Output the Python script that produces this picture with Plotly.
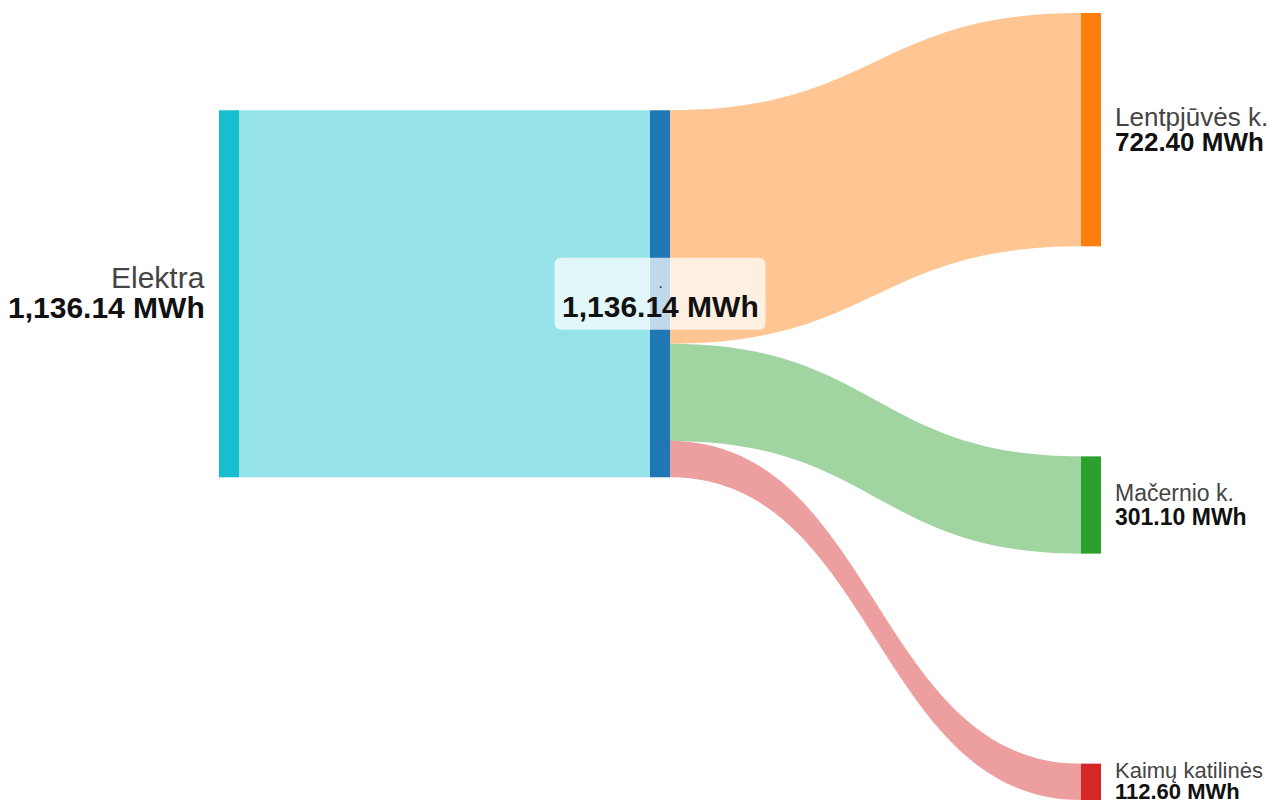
import plotly.graph_objects as go

# Energy flow: electricity supply split between three consumers (MWh)
node_names = ["Elektra", "", "Lentpjūvės k.", "Mačernio k.", "Kaimų katilinės"]
node_colors = ["#17becf", "#1f77b4", "#ff7f0e", "#2ca02c", "#d62728"]
link_sources = [0, 1, 1, 1]
link_targets = [1, 2, 3, 4]
link_values = [1136.14, 722.40, 301.10, 112.60]
unit = "MWh"


def hex_rgba(h, a):
    h = h.lstrip("#")
    r, g, b = int(h[0:2], 16), int(h[2:4], 16), int(h[4:6], 16)
    return f"rgba({r},{g},{b},{a})"


link_colors = [hex_rgba(node_colors[t], 0.45) for t in link_targets]
# the first link takes the colour of its source node
link_colors[0] = hex_rgba(node_colors[link_sources[0]], 0.45)

# node totals = max(inflow, outflow)
n = len(node_names)
inflow = [0.0] * n
outflow = [0.0] * n
for s, t, v in zip(link_sources, link_targets, link_values):
    outflow[s] += v
    inflow[t] += v
node_values = [max(i, o) for i, o in zip(inflow, outflow)]

# ---- figure geometry (pixels) ----
FIG_W, FIG_H = 1273, 800
DOM_X0, DOM_X1 = 219, 1101
DOM_TOP = 13
THICK = 20
PAD = 210

dom_w = DOM_X1 - DOM_X0
dom_h = FIG_H - DOM_TOP

fig = go.Figure(go.Sankey(
    domain=dict(x=[DOM_X0 / FIG_W, DOM_X1 / FIG_W], y=[0, 1 - DOM_TOP / FIG_H]),
    arrangement="snap",
    node=dict(
        label=["" for _ in node_names],
        color=node_colors,
        pad=PAD,
        thickness=THICK,
        line=dict(width=0),
        hovertemplate="%{value:,.2f} " + unit + "<extra></extra>",
    ),
    link=dict(
        source=link_sources,
        target=link_targets,
        value=link_values,
        color=link_colors,
        hovertemplate="%{value:,.2f} " + unit + "<extra></extra>",
    ),
))

# ---- replicate node placement to anchor the labels ----
right_nodes = [t for t in link_targets if t != 1]
ky = (dom_h - (len(right_nodes) - 1) * PAD) / sum(node_values[i] for i in right_nodes)
tops = {}
y = DOM_TOP
for i in right_nodes:
    tops[i] = y
    y += node_values[i] * ky + PAD
# middle node sits at the value-weighted alignment of its outgoing links
acc, w, off = 0.0, 0.0, 0.0
for s, t, v in zip(link_sources, link_targets, link_values):
    if s == 1:
        acc += (tops[t] - off) * v
        w += v
        off += v * ky
tops[1] = acc / w
tops[0] = tops[1]

col_of = {0: 0, 1: 1, 2: 2, 3: 2, 4: 2}
step = (dom_w - THICK) / 2


def center(i):
    x0 = DOM_X0 + col_of[i] * step
    yc = tops[i] + node_values[i] * ky / 2
    return x0, yc


def px(x):
    return x / FIG_W


def py(y):
    return 1 - y / FIG_H


FONT = "Arial, Liberation Sans, sans-serif"
NAME_COLOR = "#444444"
VAL_COLOR = "#111111"

# font size and line offsets for each labelled node
label_style = {
    0: dict(size=30, up=16, down=14),
    2: dict(size=26, up=13, down=12),
    3: dict(size=23, up=12, down=12),
    4: dict(size=22, up=11, down=10),
}

annotations = []
for i, st in label_style.items():
    x0, yc = center(i)
    if col_of[i] == 0:
        ax, anchor = x0 - 12, "right"
    else:
        ax, anchor = x0 + THICK + 12, "left"
    annotations.append(dict(
        x=px(ax), y=py(yc - st["up"]), xref="paper", yref="paper",
        xanchor=anchor, yanchor="middle", showarrow=False,
        text=node_names[i], font=dict(family=FONT, size=st["size"], color=NAME_COLOR),
    ))
    annotations.append(dict(
        x=px(ax), y=py(yc + st["down"]), xref="paper", yref="paper",
        xanchor=anchor, yanchor="middle", showarrow=False,
        text=f"<b>{node_values[i]:,.2f} {unit}</b>",
        font=dict(family=FONT, size=st["size"], color=VAL_COLOR),
    ))

# middle node: value inside a translucent rounded box
mx0, myc = center(1)
mcx = mx0 + THICK / 2
BOX_W, BOX_H, R = 211, 72, 7
bx0, bx1 = mcx - BOX_W / 2, mcx + BOX_W / 2
by0, by1 = myc - BOX_H / 2, myc + BOX_H / 2


def rounded_path(x0, y0, x1, y1, r):
    pts = [
        f"M {px(x0 + r)},{py(y0)}",
        f"L {px(x1 - r)},{py(y0)}",
        f"Q {px(x1)},{py(y0)} {px(x1)},{py(y0 + r)}",
        f"L {px(x1)},{py(y1 - r)}",
        f"Q {px(x1)},{py(y1)} {px(x1 - r)},{py(y1)}",
        f"L {px(x0 + r)},{py(y1)}",
        f"Q {px(x0)},{py(y1)} {px(x0)},{py(y1 - r)}",
        f"L {px(x0)},{py(y0 + r)}",
        f"Q {px(x0)},{py(y0)} {px(x0 + r)},{py(y0)}",
        "Z",
    ]
    return " ".join(pts)


shapes = [dict(
    type="path", xref="paper", yref="paper", layer="above",
    path=rounded_path(bx0, by0, bx1, by1, R),
    fillcolor="rgba(255,255,255,0.72)", line=dict(width=0),
)]
annotations.append(dict(
    x=px(mcx), y=py(myc - 7), xref="paper", yref="paper",
    xanchor="center", yanchor="middle", showarrow=False,
    text="·", font=dict(family=FONT, size=16, color="#333333"),
))
annotations.append(dict(
    x=px(mcx), y=py(myc + 13), xref="paper", yref="paper",
    xanchor="center", yanchor="middle", showarrow=False,
    text=f"<b>{node_values[1]:,.2f} {unit}</b>",
    font=dict(family=FONT, size=30, color=VAL_COLOR),
))

fig.update_layout(
    width=FIG_W, height=FIG_H,
    margin=dict(l=0, r=0, t=0, b=0),
    paper_bgcolor="white",
    plot_bgcolor="white",
    font=dict(family=FONT),
    shapes=shapes,
    annotations=annotations,
)

fig.write_html("out.html")
